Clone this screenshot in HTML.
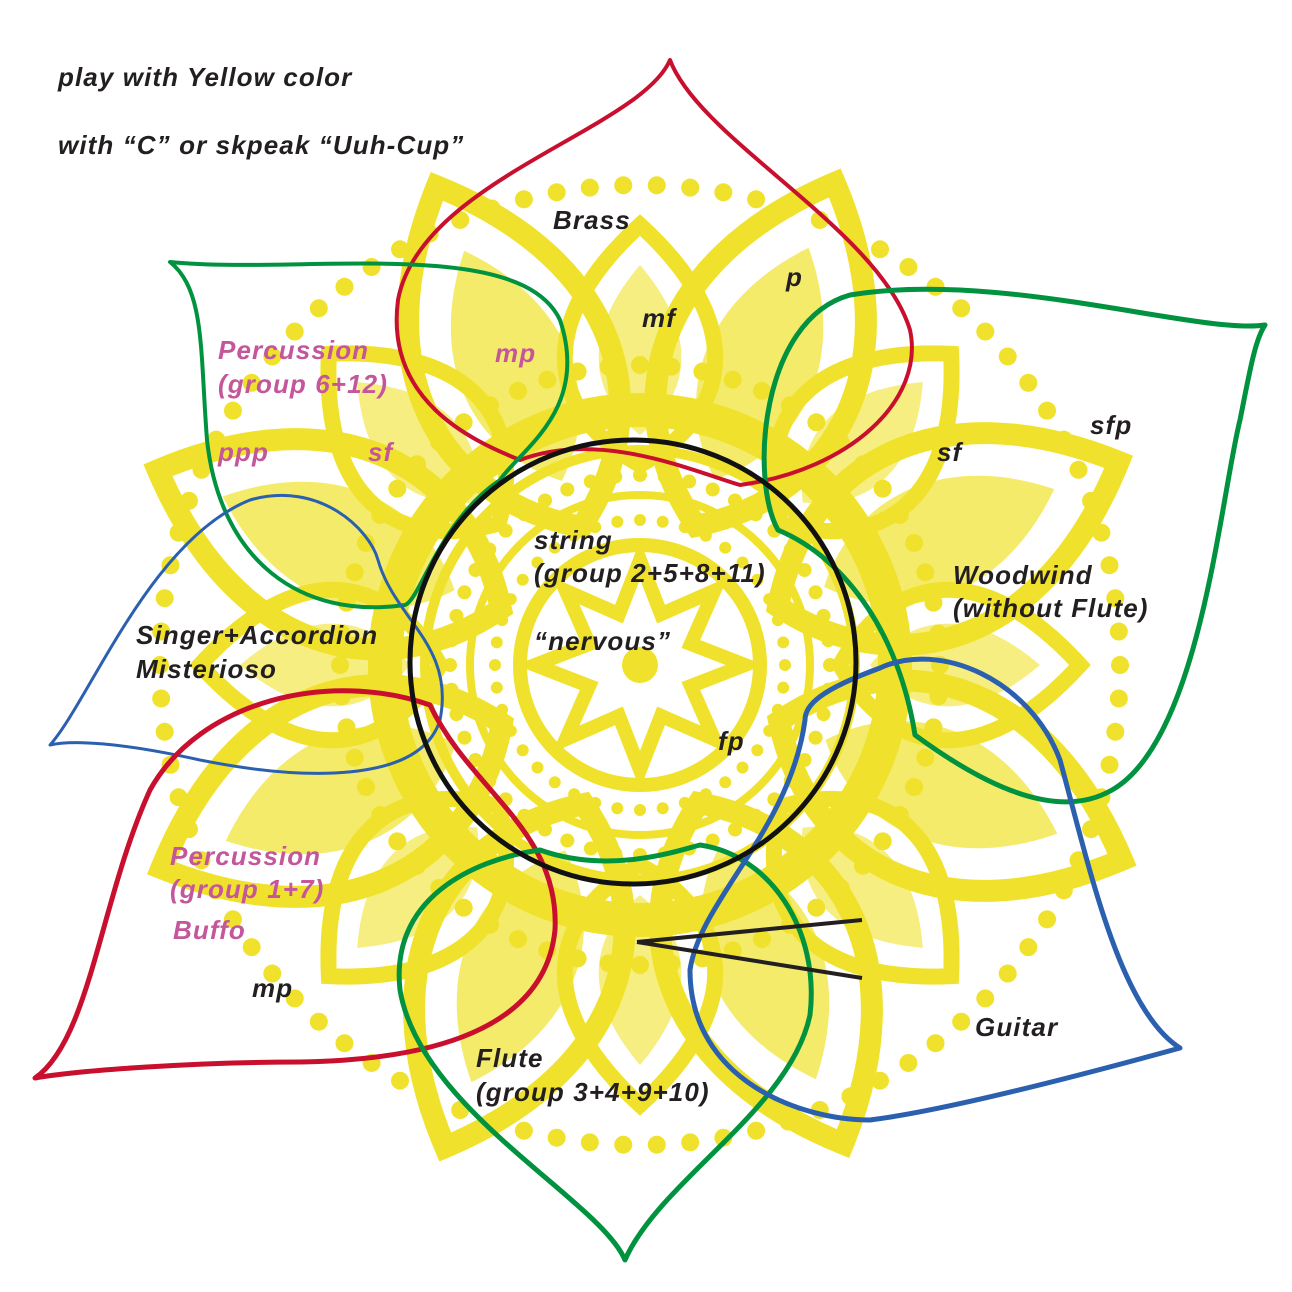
<!DOCTYPE html>
<html><head><meta charset="utf-8">
<style>
html,body{margin:0;padding:0;background:#fff;}
svg{display:block;}
text{font-family:"Liberation Sans",sans-serif;font-style:italic;font-weight:bold;font-size:26px;letter-spacing:1.1px;fill:#231f20;}
.pk{fill:#c4569c;}
</style></head>
<body>
<svg id="art" width="1292" height="1292" viewBox="0 0 1292 1292">
<g id="mandala"></g>

<g fill="none" stroke-linejoin="round">
<path d="M670,60 C640,130 420,180 398,300 C385,400 470,440 520,460 C600,430 690,470 740,485 C850,470 925,400 910,330 C880,230 700,140 670,60 Z" stroke="#c8102e" stroke-width="4"/>
<path d="M170,262 C300,275 520,235 560,320 C590,410 520,450 500,480 C440,520 420,600 405,605 C300,620 220,560 207,440 C200,350 205,290 170,262 Z" stroke="#00923f" stroke-width="4"/>
<path d="M1265,325 C1200,335 1000,270 850,295 C760,320 750,480 778,530 C850,560 900,640 915,735 C990,790 1060,820 1112,790 C1200,740 1220,500 1240,420 C1250,370 1255,340 1265,325 Z" stroke="#00923f" stroke-width="5"/>
<path d="M50,745 C90,700 150,540 250,500 C320,480 370,530 378,560 C395,620 455,645 440,720 C420,785 300,780 200,760 C120,742 70,740 50,745 Z" stroke="#2a60ae" stroke-width="3"/>
<path d="M35,1078 C90,1040 100,900 150,790 C200,700 330,670 430,705 C470,790 560,830 555,930 C545,1030 430,1060 300,1062 C200,1062 80,1070 35,1078 Z" stroke="#c8102e" stroke-width="5"/>
<path d="M625,1260 C600,1200 420,1110 400,990 C390,900 470,860 540,850 C610,875 680,850 700,845 C770,855 820,930 810,1015 C790,1110 660,1180 625,1260 Z" stroke="#00923f" stroke-width="5"/>
<path d="M1180,1048 C1120,1010 1090,870 1060,760 C1030,680 940,640 880,668 C820,690 805,705 805,720 C790,830 700,900 690,970 C690,1080 800,1120 870,1120 C950,1110 1100,1070 1180,1048 Z" stroke="#2a60ae" stroke-width="5"/>
<ellipse cx="633" cy="662" rx="223" ry="222" stroke="#111" stroke-width="5"/>
<line x1="637" y1="942" x2="862" y2="920" stroke="#231f20" stroke-width="4"/>
<line x1="637" y1="942" x2="862" y2="978" stroke="#231f20" stroke-width="4"/>
</g>

<text x="58" y="86">play with Yellow color</text>
<text x="58" y="154">with “C” or skpeak “Uuh-Cup”</text>
<text x="553" y="229">Brass</text>
<text x="786" y="286">p</text>
<text x="642" y="327">mf</text>
<text class="pk" x="495" y="362">mp</text>
<text class="pk" x="218" y="359">Percussion</text>
<text class="pk" x="218" y="393">(group 6+12)</text>
<text class="pk" x="218" y="461">ppp</text>
<text class="pk" x="368" y="461">sf</text>
<text x="1090" y="434">sfp</text>
<text x="937" y="461">sf</text>
<text x="534" y="549">string</text>
<text x="534" y="582">(group  2+5+8+11)</text>
<text x="534" y="650">“nervous”</text>
<text x="953" y="584">Woodwind</text>
<text x="953" y="617">(without Flute)</text>
<text x="136" y="644">Singer+Accordion</text>
<text x="136" y="678">Misterioso</text>
<text x="718" y="750">fp</text>
<text class="pk" x="170" y="865">Percussion</text>
<text class="pk" x="170" y="898">(group 1+7)</text>
<text class="pk" x="173" y="939">Buffo</text>
<text x="252" y="997">mp</text>
<text x="975" y="1036">Guitar</text>
<text x="476" y="1067">Flute</text>
<text x="476" y="1101">(group 3+4+9+10)</text>
</svg>
<script>
const NS="http://www.w3.org/2000/svg";
const g=document.getElementById('mandala');
const cx=640,cy=665,Y="#f0e22c";
function add(tag,attrs){const e=document.createElementNS(NS,tag);for(const k in attrs)e.setAttribute(k,attrs[k]);g.appendChild(e);return e;}
for(let i=0;i<8;i++){
  const a=i*45-90+22;
  const p=add('path',{d:`M0,-150 C120,-230 140,-380 0,-520 C-140,-380 -120,-230 0,-150 Z`,fill:"none",stroke:Y,"stroke-width":22,transform:`translate(${cx},${cy}) rotate(${a})`});
  
  
  const q=add('path',{d:`M0,-200 C70,-260 80,-360 0,-450 C-80,-360 -70,-260 0,-200 Z`,fill:Y,opacity:0.7,transform:`translate(${cx},${cy}) rotate(${a})`});
  
  
}
for(let i=0;i<8;i++){
  const a=i*45-90;
  const p=add('path',{d:`M0,-200 C90,-250 110,-340 0,-440 C-110,-340 -90,-250 0,-200 Z`,fill:"none",stroke:Y,"stroke-width":16,transform:`translate(${cx},${cy}) rotate(${a})`});
  
  
  const q=add('path',{d:`M0,-230 C50,-270 60,-330 0,-400 C-60,-330 -50,-270 0,-230 Z`,fill:Y,opacity:0.6,transform:`translate(${cx},${cy}) rotate(${a})`});
  
  
}
[[255,34],[215,10],[170,8],[120,14]].forEach(([r,w])=>{
  const c=add('circle',{cx,cy,r,fill:"none",stroke:Y,"stroke-width":w});
  
  
});
const star=add('path',{d:(()=>{let s="";for(let i=0;i<16;i++){const r=i%2?55:105;const t=i*Math.PI/8;s+=(i?"L":"M")+(cx+r*Math.sin(t))+","+(cy-r*Math.cos(t));}return s+"Z";})(),fill:"none",stroke:Y,"stroke-width":14});


const core=add('circle',{cx,cy,r:18,fill:Y});


[[145,40,6],[190,48,7],[300,60,9],[480,90,9]].forEach(([r,n,s])=>{
  for(let i=0;i<n;i++){const t=i*2*Math.PI/n;
    const d=add('circle',{cx:cx+r*Math.cos(t),cy:cy+r*Math.sin(t),r:s,fill:Y});
    
    
  }
});
</script>
</body></html>
